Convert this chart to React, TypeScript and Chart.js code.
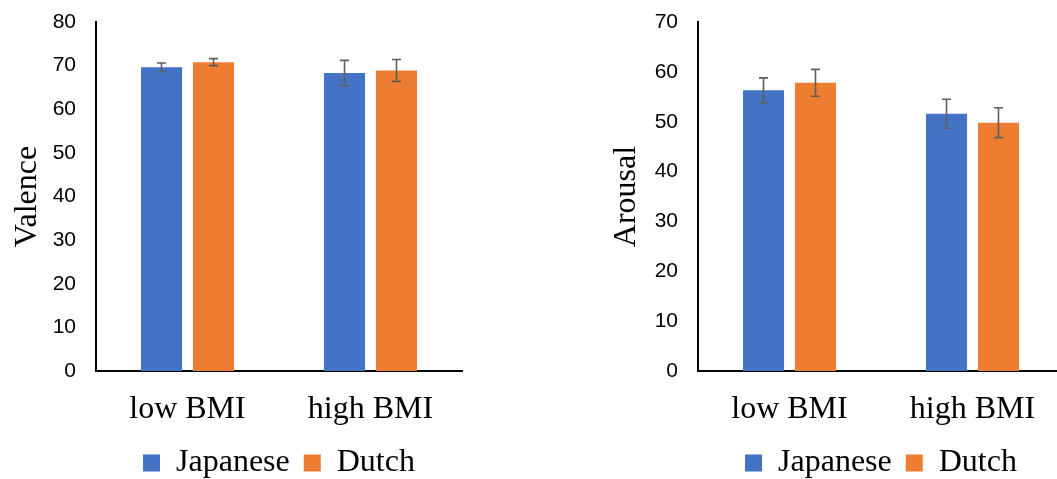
import React, { useEffect, useRef } from 'react';
import { Chart, registerables } from 'chart.js';

Chart.register(...registerables);

const categories = ['low BMI', 'high BMI'];
const seriesNames = ['Japanese', 'Dutch'];
const seriesColors = ['#4472C4', '#ED7D31'];

const valenceJapanese = [69.6, 68.3];
const valenceJapaneseErr = [1.0, 2.9];
const valenceDutch = [70.8, 68.9];
const valenceDutchErr = [0.8, 2.5];
const valenceMax = 80;

const arousalJapanese = [56.3, 51.6];
const arousalJapaneseErr = [2.5, 2.9];
const arousalDutch = [57.8, 49.8];
const arousalDutchErr = [2.7, 3.0];
const arousalMax = 70;

const tickStep = 10;

const errorBarPlugin = {
  id: 'errorBars',
  afterDatasetsDraw(chart: any) {
    const { ctx } = chart;
    const yScale = chart.scales.y;
    ctx.save();
    ctx.strokeStyle = '#5f5f5f';
    ctx.lineWidth = 1.6;
    chart.data.datasets.forEach((ds: any, i: number) => {
      const meta = chart.getDatasetMeta(i);
      meta.data.forEach((bar: any, j: number) => {
        const v = ds.data[j];
        const e = ds.errors[j];
        const x = bar.x;
        const yT = yScale.getPixelForValue(v + e);
        const yB = yScale.getPixelForValue(v - e);
        ctx.beginPath();
        ctx.moveTo(x, yT);
        ctx.lineTo(x, yB);
        ctx.moveTo(x - 4.5, yT);
        ctx.lineTo(x + 4.5, yT);
        ctx.moveTo(x - 4.5, yB);
        ctx.lineTo(x + 4.5, yB);
        ctx.stroke();
      });
    });
    ctx.restore();
  },
};

type PanelProps = {
  left: number;
  yTitle: string;
  yMax: number;
  japanese: number[];
  japaneseErr: number[];
  dutch: number[];
  dutchErr: number[];
  yWidth: number;
  titlePad: number;
};

const CANVAS_W = 482;
const CANVAS_H = 489;

function BarPanel(p: PanelProps) {
  const ref = useRef<HTMLCanvasElement | null>(null);
  useEffect(() => {
    if (!ref.current) return;
    const serif = { family: 'Liberation Serif', size: 32 };
    const chart = new Chart(ref.current, {
      type: 'bar',
      data: {
        labels: categories,
        datasets: [
          {
            label: seriesNames[0],
            data: p.japanese,
            errors: p.japaneseErr,
            backgroundColor: seriesColors[0],
            borderWidth: 0,
          } as any,
          {
            label: seriesNames[1],
            data: p.dutch,
            errors: p.dutchErr,
            backgroundColor: seriesColors[1],
            borderWidth: 0,
          } as any,
        ],
      },
      options: {
        responsive: false,
        animation: false,
        layout: { padding: { top: 22, right: 18, left: 0, bottom: 0 } },
        datasets: { bar: { categoryPercentage: 0.568, barPercentage: 0.79 } },
        plugins: {
          legend: {
            position: 'bottom',
            fullSize: false,
            labels: {
              boxWidth: 17,
              boxHeight: 17,
              padding: 14,
              color: '#000',
              font: serif,
            },
          },
          tooltip: { enabled: false },
        },
        scales: {
          x: {
            grid: { display: false, drawTicks: false },
            border: { display: true, color: '#000', width: 2 },
            ticks: { color: '#000', padding: 19, font: serif },
            afterFit: (s: any) => {
              s.height = 62;
            },
          },
          y: {
            min: 0,
            max: p.yMax,
            grid: { display: false, drawTicks: false },
            border: { display: true, color: '#000', width: 2 },
            ticks: {
              stepSize: tickStep,
              padding: 20,
              color: '#000',
              font: { family: 'Liberation Sans', size: 21 },
            },
            title: {
              display: true,
              text: p.yTitle,
              color: '#000',
              font: serif,
              padding: { top: p.titlePad, bottom: 0 },
            },
            afterFit: (s: any) => {
              s.width = p.yWidth;
              s.paddingTop = 0;
              s.paddingBottom = 0;
            },
          },
        },
      } as any,
      plugins: [errorBarPlugin],
    });
    return () => chart.destroy();
  }, []);
  return (
    <canvas
      ref={ref}
      width={CANVAS_W}
      height={CANVAS_H}
      style={{
        position: 'absolute',
        left: p.left,
        top: 0,
        width: CANVAS_W,
        height: CANVAS_H,
        display: 'block',
      }}
    />
  );
}

export default function App() {
  return (
    <div
      style={{
        position: 'absolute',
        left: 0,
        top: 0,
        width: 1057,
        height: 479,
        overflow: 'hidden',
        background: '#fff',
      }}
    >
      <BarPanel
        left={-2}
        yTitle="Valence"
        yMax={valenceMax}
        japanese={valenceJapanese}
        japaneseErr={valenceJapaneseErr}
        dutch={valenceDutch}
        dutchErr={valenceDutchErr}
        yWidth={98}
        titlePad={10}
      />
      <BarPanel
        left={600}
        yTitle="Arousal"
        yMax={arousalMax}
        japanese={arousalJapanese}
        japaneseErr={arousalJapaneseErr}
        dutch={arousalDutch}
        dutchErr={arousalDutchErr}
        yWidth={98}
        titlePad={7}
      />
    </div>
  );
}
